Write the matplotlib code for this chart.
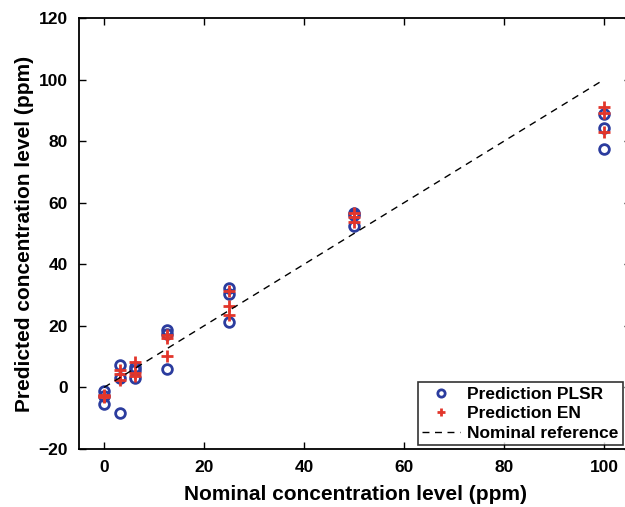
"""Predicted vs nominal concentration, PLSR and EN predictions."""

import numpy as np
import matplotlib
matplotlib.use("Agg")
import matplotlib.pyplot as plt

plt.rcParams["font.family"] = ["Liberation Sans", "DejaVu Sans"]
plt.rcParams["font.weight"] = "bold"

# nominal levels (ppm), one entry per prediction
nominal_plsr = [0, 0, 0, 3.125, 3.125, 3.125, 6.25, 6.25, 6.25,
                12.5, 12.5, 12.5, 25, 25, 25, 50, 50, 50, 100, 100, 100]
pred_plsr = [-1.2, -2.8, -5.3, 7.4, 3.1, -8.4, 6.6, 5.5, 3.2,
             18.6, 17.5, 6.0, 32.4, 30.4, 21.2, 56.8, 56.1, 52.4, 88.9, 84.3, 77.6]

nominal_en = [0, 0, 0, 3.125, 3.125, 3.125, 6.25, 6.25, 6.25,
              12.5, 12.5, 12.5, 25, 25, 25, 50, 50, 50, 100, 100, 100]
pred_en = [-2.3, -2.8, -3.2, 5.6, 4.2, 2.5, 8.3, 4.8, 3.8,
           17.0, 16.2, 10.3, 31.4, 26.4, 23.6, 56.5, 55.2, 53.6, 91.2, 89.0, 83.1]

ref_x = [0, 100]
ref_y = [0, 100]

fig = plt.figure(figsize=(6.25, 5.07), dpi=100)
# right spine sits just past the image edge, as in the cropped original
ax = fig.add_axes([79 / 625, 58 / 507, 552 / 625, 431 / 507])

ax.plot(nominal_plsr, pred_plsr, "o", mfc="none", mec="#2b3c9e", mew=2.0,
        ms=7, label="Prediction PLSR")
ax.plot(nominal_en, pred_en, "+", color="#e2362b", mew=2.0, ms=8,
        label="Prediction EN")
ax.plot(ref_x, ref_y, "--", color="black", lw=1.0, dashes=(5, 4),
        label="Nominal reference")

ax.set_xlim(-5, 105.4)
ax.set_ylim(-20, 120)
ax.set_xticks(np.arange(0, 101, 20))
ax.set_yticks(np.arange(-20, 121, 20))
ax.yaxis.set_major_formatter(plt.FuncFormatter(
    lambda v, _: f"{int(v)}".replace("-", "\u2212")))
ax.tick_params(direction="in", top=True, right=True, length=5, width=1,
               labelsize=12.5, pad=8)
for lbl in ax.get_xticklabels() + ax.get_yticklabels():
    lbl.set_fontweight("bold")
for sp in ax.spines.values():
    sp.set_linewidth(1.3)

ax.set_xlabel("Nominal concentration level (ppm)", fontsize=15,
              fontweight="bold", labelpad=7)
ax.set_ylabel("Predicted concentration level (ppm)", fontsize=15,
              fontweight="bold", labelpad=3)

leg = ax.legend(loc="lower right", bbox_to_anchor=(544 / 552, 0.009),
                fontsize=12.5, frameon=True, fancybox=False,
                edgecolor="black", handlelength=2.2, handletextpad=0.4,
                borderpad=0.25, labelspacing=0.25, markerscale=0.75,
                borderaxespad=0)
leg.get_frame().set_linewidth(1.2)
for t in leg.get_texts():
    t.set_fontweight("bold")

plt.savefig("out.png", dpi=100)
plt.close()
